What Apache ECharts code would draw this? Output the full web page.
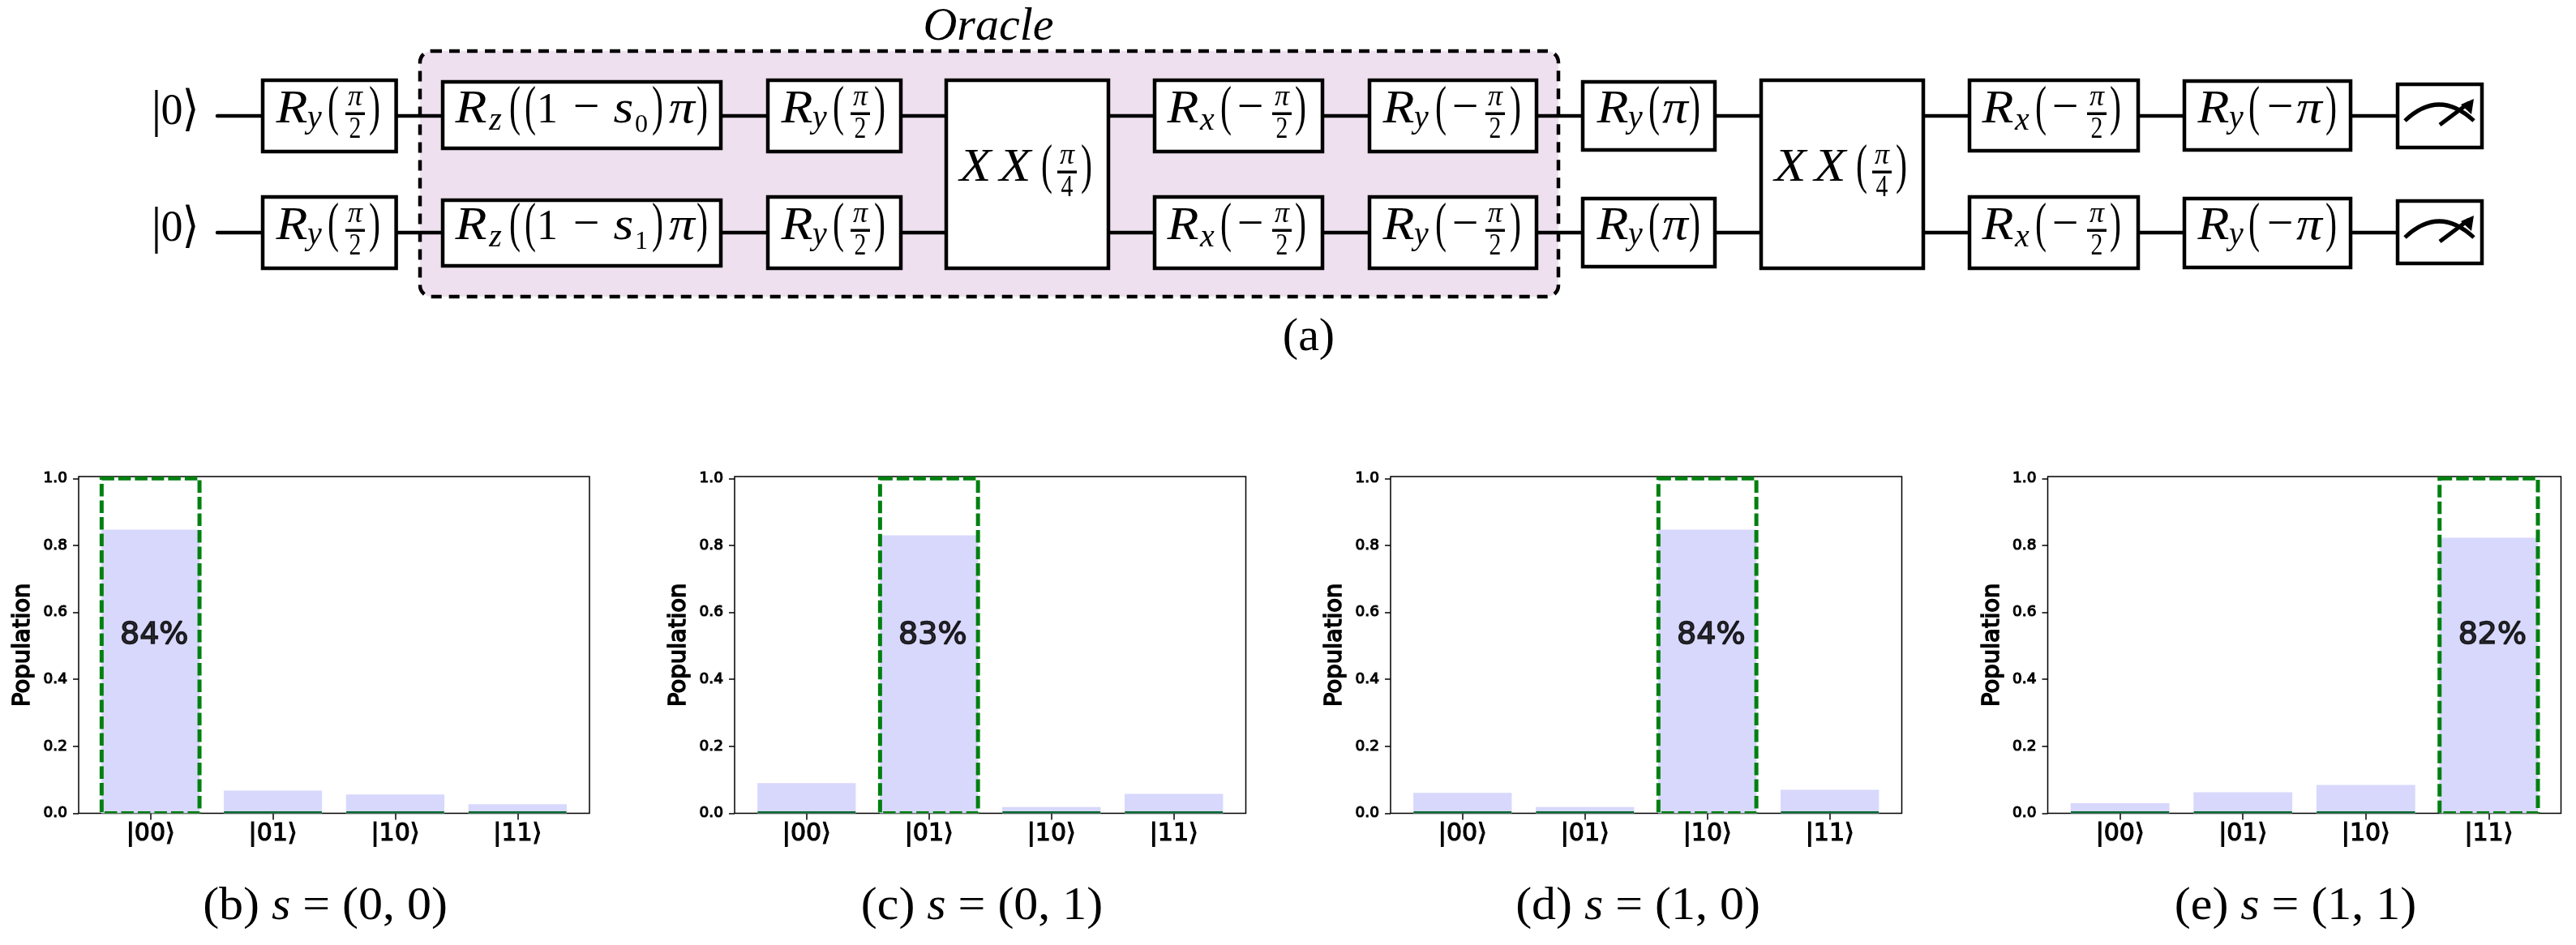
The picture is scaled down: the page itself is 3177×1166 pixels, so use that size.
<!DOCTYPE html>
<html><head><meta charset="utf-8">
<style>html,body{margin:0;padding:0;background:#fff}#c{width:3177px;height:1166px}</style>
<script src="https://cdn.jsdelivr.net/npm/echarts@6/dist/echarts.min.js"></script>
</head><body><div id="c"></div>
<script>
// ---- chart data ----
const categories = ['|00⟩', '|01⟩', '|10⟩', '|11⟩'];
const yTicks = [0, 0.2, 0.4, 0.6, 0.8, 1.0];
const popB = [0.847, 0.068, 0.056, 0.027];
const popC = [0.090, 0.830, 0.019, 0.058];
const popD = [0.061, 0.019, 0.847, 0.070];
const popE = [0.030, 0.063, 0.085, 0.823];
const idealB = [1, 0, 0, 0];
const idealC = [0, 1, 0, 0];
const idealD = [0, 0, 1, 0];
const idealE = [0, 0, 0, 1];
const pctLabels = ['84%', '83%', '84%', '82%'];
const captions = [['(b)', '(0, 0)'], ['(c)', '(0, 1)'], ['(d)', '(1, 0)'], ['(e)', '(1, 1)']];
// ---- panel layout ----
const frames = [[97, 630], [906, 630.5], [1715, 630.5], [2525.5, 633]];
const captionX = [401, 1211, 2020, 2831];
const panels = [[popB, idealB], [popC, idealC], [popD, idealD], [popE, idealE]];

// ---- circuit expressions: [kind, text, centre offset from box left] ----
const frac = (a, b, x) => ['F', a, x, b];
const exprRyHalf = [['I','R',38],['Sy','y',66],['P','(',89],frac('π','2',116),['P',')',140]];
const exprRz0 = [['I','R',37],['Sx','z',67],['P','(',91],['P','(',110],['N','1',131],['M','−',179],['I','s',225],['D','0',247],['P',')',267],['I','π',297],['P',')',322]];
const exprRz1 = exprRz0.map(t => t[0] === 'D' ? ['D', '1', t[2]] : t);
const exprRxNeg = [['I','R',37],['Sx','x',67],['P','(',90],['M','−',120],frac('π','2',159),['P',')',182]];
const exprRyNeg = [['I','R',38],['Sy','y',66],['P','(',90],['M','−',120],frac('π','2',157),['P',')',182]];
const exprRyPi = [['I','R',39],['Sy','y',67],['P','(',90],['I','π',116],['P',')',140]];
const exprRyNegPi = [['I','R',38],['Sy','y',66],['P','(',88],['M','−',120],['I','π',156],['P',')',183]];
const exprXX = [['I','X',38],['I','X',87],['P','(',126],frac('π','4',151),['P',')',175]];

const wires = [143, 287];
const gates = [
  [322, 490.6, 97, 189, 143, exprRyHalf], [322, 490.6, 241, 333, 287, exprRyHalf],
  [544, 891, 99, 185, 143, exprRz0], [544, 891, 245, 330, 287, exprRz1],
  [945, 1113, 97, 189, 143, exprRyHalf], [945, 1113, 241, 333, 287, exprRyHalf],
  [1165, 1369, 97, 333, 215, exprXX],
  [1422, 1633, 97, 189, 143, exprRxNeg], [1422, 1633, 241, 333, 287, exprRxNeg],
  [1687, 1897, 97, 189, 143, exprRyNeg], [1687, 1897, 241, 333, 287, exprRyNeg],
  [1950, 2117, 99, 187, 143, exprRyPi], [1950, 2117, 243, 331, 287, exprRyPi],
  [2170, 2374, 97, 333, 215, exprXX],
  [2427, 2639, 97, 188, 143, exprRxNeg], [2427, 2639, 241, 333, 287, exprRxNeg],
  [2692, 2901, 98, 187, 143, exprRyNegPi], [2692, 2901, 243, 332, 287, exprRyNegPi]
];
const meters = [[2955, 3063, 102, 184, 143], [2955, 3063, 246, 327, 287]];

const SERIF = '"Liberation Serif"';
const g = [];
function txt(x, base, s, size, italic, sx, family) {
  g.push({ type: 'text', silent: true, x, y: base - 0.3375 * size, scaleX: sx || 1,
    style: { text: s, font: (italic ? 'italic ' : '') + size + 'px ' + (family || SERIF), fill: '#000', align: 'center', verticalAlign: 'middle' } });
}
function drawExpr(tokens, left, cy) {
  tokens.forEach(t => {
    const [k, s, x] = t;
    const X = left + x;
    if (k === 'I') txt(X, cy + 12, s, 58, true, 1.1);
    else if (k === 'Sy') txt(X, cy + 17, s, 40, true);
    else if (k === 'Sx') txt(X, cy + 20, s, 40, true);
    else if (k === 'P') txt(X, cy + 15, s, 68, false, 0.62);
    else if (k === 'N') txt(X, cy + 12, s, 52, false);
    else if (k === 'D') txt(X, cy + 22, s, 32, false);
    else if (k === 'M') txt(X, cy + 11, s, 58, false);
    else if (k === 'F') {
      txt(X, cy - 10, s, 36, true);
      g.push({ type: 'rect', silent: true, shape: { x: X - 12, y: cy - 4.5, width: 24, height: 3.5 }, style: { fill: '#000' } });
      txt(X, cy + 30, t[3], 38, false, 0.78);
    }
  });
}
// Oracle background
g.push({ type: 'rect', silent: true, shape: { x: 518, y: 63, width: 1404, height: 303, r: 14 },
  style: { fill: '#efe0f0', stroke: null } });
// wires
wires.forEach(y => g.push({ type: 'line', silent: true, shape: { x1: 268, y1: y, x2: 2955, y2: y },
  style: { stroke: '#000', lineWidth: 4.5, lineCap: 'round' } }));
// Oracle dashed frame
g.push({ type: 'rect', silent: true, shape: { x: 518, y: 63, width: 1404, height: 303, r: 14 },
  style: { fill: null, stroke: '#000', lineWidth: 4.5, lineDash: [13, 9] } });
// gates
gates.forEach(([x0, x1, y0, y1, cy, ex]) => {
  g.push({ type: 'rect', silent: true, shape: { x: x0 + 2, y: y0 + 2, width: x1 - x0 - 4, height: y1 - y0 - 4 },
    style: { fill: '#fff', stroke: '#000', lineWidth: 4.5 } });
  drawExpr(ex, x0, cy);
});
// meters
meters.forEach(([x0, x1, y0, y1, wy]) => {
  g.push({ type: 'rect', silent: true, shape: { x: x0 + 2, y: y0 + 2, width: x1 - x0 - 4, height: y1 - y0 - 4 },
    style: { fill: '#fff', stroke: '#000', lineWidth: 4.5 } });
  g.push({ type: 'bezierCurve', silent: true, shape: { x1: x0 + 11, y1: wy + 6, x2: x0 + 96, y2: wy + 6, cpx1: x0 + 53, cpy1: wy - 34 },
    style: { fill: null, stroke: '#000', lineWidth: 5 } });
  g.push({ type: 'line', silent: true, shape: { x1: x0 + 54, y1: wy + 11, x2: x0 + 90, y2: wy - 16 },
    style: { stroke: '#000', lineWidth: 5 } });
  g.push({ type: 'polygon', silent: true, shape: { points: [[x0 + 96, wy - 21], [x0 + 93, wy - 2], [x0 + 80, wy - 14]] },
    style: { fill: '#000' } });
});
// kets
wires.forEach(y => {
  txt(193, y + 17, '|', 64, false);
  txt(212, y + 14, '0', 54, false);
  txt(235, y + 16, '⟩', 60, false, 0.9, '"DejaVu Sans"');
});
// titles
txt(1219, 53, 'Oracle', 58, true, 1.0);
txt(1614, 436, '(a)', 58, false);
// captions under bar panels
captions.forEach((c, i) => {
  g.push({ type: 'text', silent: true, x: captionX[i], y: 1119, scaleX: 1.07,
    style: { text: '{a|' + c[0] + ' }{b|s}{a| = ' + c[1] + '}', align: 'center', verticalAlign: 'middle',
      rich: { a: { font: '56px ' + SERIF, fill: '#000' }, b: { font: 'italic 56px ' + SERIF, fill: '#000' } } } });
});

// target outline: drawn through the panel's own scales, 0.8 category units wide
function renderTarget(params, api) {
  const k = api.value(0), v = api.value(1);
  const a = api.coord([k - 0.4, v]), b = api.coord([k + 0.4, 0]);
  return { type: 'rect', shape: { x: a[0], y: a[1], width: b[0] - a[0], height: b[1] - a[1] },
    style: v ? { fill: 'none', stroke: '#008010', lineWidth: 5, lineDash: [15.5, 5] }
             : { fill: 'none', stroke: '#0a6b35', lineWidth: 5 } };
}

// ---- chart option ----
const grid = [], xAxis = [], yAxis = [], series = [];
panels.forEach(([pop, ideal], i) => {
  const [left, width] = frames[i];
  grid.push({ left, top: 588, width, height: 415.5, show: true, borderColor: '#000', borderWidth: 1.5, backgroundColor: 'transparent' });
  xAxis.push({ type: 'value', gridIndex: i, min: -0.588, max: 3.588, splitLine: { show: false }, axisLine: { show: false, onZero: false },
    axisTick: { show: true, length: 8, lineStyle: { color: '#000', width: 1.5 }, customValues: [0, 1, 2, 3] },
    axisLabel: { customValues: [0, 1, 2, 3], formatter: v => categories[v], margin: 11, color: '#000', fontFamily: 'DejaVu Sans', fontSize: 30, textBorderColor: '#000', textBorderWidth: 1.2 } });
  yAxis.push({ type: 'value', gridIndex: i, min: 0, max: 1.0056, splitLine: { show: false }, axisLine: { show: false, onZero: false },
    name: 'Population', nameLocation: 'middle', nameGap: 54,
    nameTextStyle: { fontFamily: 'DejaVu Sans', fontSize: 29, color: '#000', textBorderColor: '#000', textBorderWidth: 1.6 },
    axisTick: { show: true, length: 7, lineStyle: { color: '#000', width: 1.5 }, customValues: yTicks },
    axisLabel: { customValues: yTicks, formatter: v => v.toFixed(1), margin: 14, color: '#000', fontFamily: 'DejaVu Sans', fontSize: 18.5, textBorderColor: '#000', textBorderWidth: 1.1 } });
  series.push({ type: 'bar', xAxisIndex: i, yAxisIndex: i, barWidth: width * 0.1925, z: 2,
    itemStyle: { color: '#d8d8fd' }, data: pop.map((v, k) => [k, v]) });
  series.push({ type: 'custom', xAxisIndex: i, yAxisIndex: i, z: 3, clip: true, renderItem: renderTarget,
    encode: { x: 0, y: 1 }, data: ideal.map((v, k) => [k, v]) });
  const top = ideal.indexOf(1);
  series.push({ type: 'scatter', xAxisIndex: i, yAxisIndex: i, symbolSize: 1, z: 4, itemStyle: { color: 'transparent' },
    data: [[top + 0.03, 0.53]],
    label: { show: true, position: 'inside', formatter: pctLabels[i], color: '#000', fontFamily: 'DejaVu Sans', fontSize: 38, textBorderColor: '#000', textBorderWidth: 1.6 } });
});

const chart = echarts.init(document.getElementById('c'), null, { renderer: 'canvas' });
chart.setOption({ animation: false, backgroundColor: '#fff', tooltip: { show: false }, grid, xAxis, yAxis, series, graphic: { elements: g } });
</script></body></html>
